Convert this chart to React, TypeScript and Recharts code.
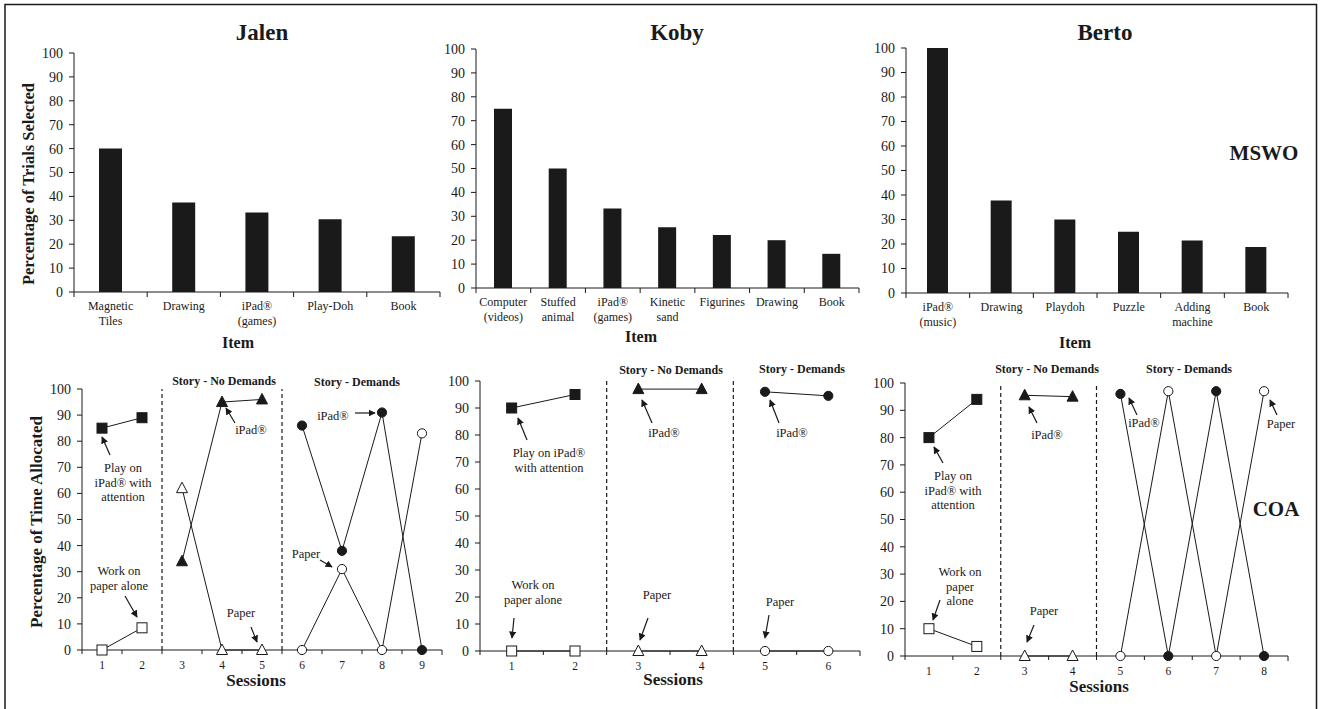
import React from 'react';
import { BarChart, Bar, LineChart, Line, XAxis, YAxis, ReferenceLine } from 'recharts';

const FONT = '"Liberation Serif", "Times New Roman", Times, serif';
const INK = '#1a1a1a';

// ---- MSWO (top row) ----
const jalenItems = ['Magnetic\nTiles', 'Drawing', 'iPad®\n(games)', 'Play-Doh', 'Book'];
const jalenMswo = [60, 37.5, 33.3, 30.4, 23.3];

const kobyItems = ['Computer\n(videos)', 'Stuffed\nanimal', 'iPad®\n(games)', 'Kinetic\nsand', 'Figurines', 'Drawing', 'Book'];
const kobyMswo = [75, 50, 33.3, 25.4, 22.2, 20, 14.3];

const bertoItems = ['iPad®\n(music)', 'Drawing', 'Playdoh', 'Puzzle', 'Adding\nmachine', 'Book'];
const bertoMswo = [100, 37.8, 30, 25, 21.4, 18.8];

const pctTicks = [0, 10, 20, 30, 40, 50, 60, 70, 80, 90, 100];

// ---- COA (bottom row) ----
const baselineSessions = [1, 2];

const jalenSessions = [1, 2, 3, 4, 5, 6, 7, 8, 9];
const jalenNoDemSessions = [3, 4, 5];
const jalenDemSessions = [6, 7, 8, 9];
const jalenAttention = [85, 89];
const jalenAlone = [0, 8.5];
const jalenNoDemIpad = [34, 95, 96];
const jalenNoDemPaper = [62, 0, 0];
const jalenDemIpad = [86, 38, 91, 0];
const jalenDemPaper = [0, 31, 0, 83];
const jalenBreaks = [2.5, 5.5];

const kobySessions = [1, 2, 3, 4, 5, 6];
const kobyNoDemSessions = [3, 4];
const kobyDemSessions = [5, 6];
const kobyAttention = [90, 95];
const kobyAlone = [0, 0];
const kobyNoDemIpad = [97, 97];
const kobyNoDemPaper = [0, 0];
const kobyDemIpad = [96, 94.5];
const kobyDemPaper = [0, 0];
const kobyBreaks = [2.5, 4.5];

const bertoSessions = [1, 2, 3, 4, 5, 6, 7, 8];
const bertoNoDemSessions = [3, 4];
const bertoDemSessions = [5, 6, 7, 8];
const bertoAttention = [80, 94];
const bertoAlone = [10, 3.5];
const bertoNoDemIpad = [95.5, 95];
const bertoNoDemPaper = [0, 0];
const bertoDemIpad = [96, 0, 97, 0];
const bertoDemPaper = [0, 97, 0, 97];
const bertoBreaks = [2.5, 4.5];

type Box = { x: number; y: number; w: number; h: number };
type Shape = 'square' | 'triangle' | 'circle';

const Y_W = 40;
const M_TOP = 12;
const M_RIGHT = 5;
const X_H = 45;

const toPoints = (sessions: number[], values: number[]) =>
  sessions.map((session, i) => ({ session, pct: values[i] }));

const yAxisProps = {
  width: Y_W,
  domain: [0, 100] as [number, number],
  ticks: pctTicks,
  interval: 0 as const,
  tickSize: 5,
  tickMargin: 6,
  stroke: INK,
  tick: { fill: INK, fontSize: 14, fontFamily: FONT },
};

const MswoPanel = ({ items, values, box, barSize }: { items: string[]; values: number[]; box: Box; barSize: number }) => {
  const data = items.map((item, i) => ({ item, pct: values[i] }));
  const band = box.w / items.length;

  const tick = (p: any) => {
    const lines = String(p.payload.value).split('\n');
    const last = p.index === items.length - 1;
    return (
      <g>
        <line x1={p.x - band / 2} x2={p.x - band / 2} y1={p.y} y2={p.y + 5} stroke={INK} />
        {last && <line x1={p.x + band / 2} x2={p.x + band / 2} y1={p.y} y2={p.y + 5} stroke={INK} />}
        <text x={p.x} y={p.y + 18} textAnchor="middle" fontSize={12} fontFamily={FONT} fill={INK}>
          {lines.map((l, i) => (
            <tspan key={i} x={p.x} dy={i === 0 ? 0 : 15}>{l}</tspan>
          ))}
        </text>
      </g>
    );
  };

  return (
    <div style={{ position: 'absolute', left: box.x - Y_W, top: box.y - M_TOP }}>
      <BarChart
        width={Y_W + box.w + M_RIGHT}
        height={M_TOP + box.h + X_H}
        data={data}
        margin={{ top: M_TOP, right: M_RIGHT, bottom: 0, left: 0 }}
      >
        <XAxis dataKey="item" interval={0} tickLine={false} tickSize={0} tickMargin={0} tick={tick} height={X_H} stroke={INK} />
        <YAxis {...yAxisProps} />
        <Bar dataKey="pct" fill={INK} barSize={barSize} isAnimationActive={false} />
      </BarChart>
    </div>
  );
};

const marker = (shape: Shape, filled: boolean) => (p: any) => {
  const { cx, cy, index } = p;
  if (cx == null || cy == null) return <g key={index} />;
  const fill = filled ? INK : '#fff';
  if (shape === 'square')
    return <rect key={index} x={cx - 5} y={cy - 5} width={10} height={10} fill={fill} stroke={INK} strokeWidth={1} />;
  if (shape === 'triangle')
    return (
      <polygon
        key={index}
        points={`${cx},${cy - 6} ${cx + 5.5},${cy + 4.5} ${cx - 5.5},${cy + 4.5}`}
        fill={fill}
        stroke={INK}
        strokeWidth={1}
      />
    );
  return <circle key={index} cx={cx} cy={cy} r={4.6} fill={fill} stroke={INK} strokeWidth={1} />;
};

type Series = { points: { session: number; pct: number }[]; shape: Shape; filled: boolean };

const CoaPanel = ({ sessions, breaks, series, box }: { sessions: number[]; breaks: number[]; series: Series[]; box: Box }) => {
  const n = sessions.length;
  const step = box.w / n;

  const tick = (p: any) => (
    <g>
      <line x1={p.x - step / 2} x2={p.x - step / 2} y1={p.y} y2={p.y + 4} stroke={INK} />
      {p.index === n - 1 && <line x1={p.x + step / 2} x2={p.x + step / 2} y1={p.y} y2={p.y + 5} stroke={INK} />}
      <text x={p.x} y={p.y + 19} textAnchor="middle" fontSize={11.5} fontFamily={FONT} fill={INK}>
        {p.payload.value}
      </text>
    </g>
  );

  return (
    <div style={{ position: 'absolute', left: box.x - Y_W, top: box.y - M_TOP }}>
      <LineChart
        width={Y_W + box.w + M_RIGHT}
        height={M_TOP + box.h + X_H}
        margin={{ top: M_TOP, right: M_RIGHT, bottom: 0, left: 0 }}
      >
        <XAxis
          type="number"
          dataKey="session"
          domain={[0.5, n + 0.5]}
          ticks={sessions}
          interval={0}
          tickLine={false}
          tickSize={0}
          tickMargin={0}
          tick={tick}
          height={X_H}
          stroke={INK}
          allowDataOverflow
        />
        <YAxis {...yAxisProps} />
        {breaks.map((b) => (
          <ReferenceLine key={b} x={b} stroke={INK} strokeWidth={1.2} strokeDasharray="4 3" />
        ))}
        {series.map((s, i) => (
          <Line
            key={i}
            data={s.points}
            dataKey="pct"
            stroke={INK}
            strokeWidth={1}
            dot={marker(s.shape, s.filled)}
            activeDot={false}
            isAnimationActive={false}
          />
        ))}
      </LineChart>
    </div>
  );
};

const buildSeries = (
  attention: number[], alone: number[],
  noDemSessions: number[], noDemIpad: number[], noDemPaper: number[],
  demSessions: number[], demIpad: number[], demPaper: number[],
): Series[] => [
  { points: toPoints(baselineSessions, alone), shape: 'square', filled: false },
  { points: toPoints(baselineSessions, attention), shape: 'square', filled: true },
  { points: toPoints(noDemSessions, noDemPaper), shape: 'triangle', filled: false },
  { points: toPoints(noDemSessions, noDemIpad), shape: 'triangle', filled: true },
  { points: toPoints(demSessions, demPaper), shape: 'circle', filled: false },
  { points: toPoints(demSessions, demIpad), shape: 'circle', filled: true },
];

// ---- annotation layout (figure pixels) ----
const titles = [
  { text: 'Jalen', x: 262, y: 40 },
  { text: 'Koby', x: 677, y: 40 },
  { text: 'Berto', x: 1105, y: 40 },
];
const itemLabels = [{ x: 238, y: 348 }, { x: 641, y: 342 }, { x: 1075, y: 348 }];
const sessionLabels = [{ x: 256, y: 686 }, { x: 673, y: 685 }, { x: 1099, y: 692 }];
const phaseLabels = [
  { text: 'Story - No Demands', x: 224, y: 385 },
  { text: 'Story - Demands', x: 357, y: 386 },
  { text: 'Story - No Demands', x: 671, y: 374 },
  { text: 'Story - Demands', x: 802, y: 373 },
  { text: 'Story - No Demands', x: 1047, y: 373 },
  { text: 'Story - Demands', x: 1189, y: 373 },
];
const notes = [
  { x: 123, y: 472, lines: ['Play on', 'iPad® with', 'attention'] },
  { x: 119, y: 575, lines: ['Work on', 'paper alone'] },
  { x: 251, y: 434, lines: ['iPad®'] },
  { x: 241, y: 617, lines: ['Paper'] },
  { x: 333, y: 420, lines: ['iPad®'] },
  { x: 306, y: 558, lines: ['Paper'] },
  { x: 549, y: 457, lines: ['Play on iPad®', 'with attention'] },
  { x: 533, y: 589, lines: ['Work on', 'paper alone'] },
  { x: 664, y: 437, lines: ['iPad®'] },
  { x: 657, y: 599, lines: ['Paper'] },
  { x: 792, y: 437, lines: ['iPad®'] },
  { x: 780, y: 606, lines: ['Paper'] },
  { x: 953, y: 480, lines: ['Play on', 'iPad® with', 'attention'] },
  { x: 960, y: 576, lines: ['Work on', 'paper', 'alone'] },
  { x: 1047, y: 439, lines: ['iPad®'] },
  { x: 1044, y: 615, lines: ['Paper'] },
  { x: 1144, y: 427, lines: ['iPad®'] },
  { x: 1281, y: 428, lines: ['Paper'] },
];
const arrows = [
  [110, 455, 102, 437], [125, 596, 137, 617], [235, 423, 226, 408],
  [251, 627, 257, 642], [355, 413, 375, 413], [320, 560, 332, 567],
  [527, 440, 518, 418], [514, 618, 512, 638], [652, 423, 642, 400],
  [648, 618, 640, 640], [779, 423, 770, 400], [769, 615, 765, 638],
  [943, 463, 934, 447], [940, 600, 933, 620], [1037, 423, 1029, 407],
  [1034, 625, 1027, 642], [1137, 415, 1129, 398], [1277, 415, 1270, 400],
];

const Overlay = () => (
  <svg width={1322} height={709} style={{ position: 'absolute', left: 0, top: 0, pointerEvents: 'none' }} fontFamily={FONT}>
    <defs>
      <marker id="ah" viewBox="0 0 10 10" refX="9" refY="5" markerWidth="6" markerHeight="6" orient="auto">
        <path d="M0,0 L10,5 L0,10 z" fill={INK} />
      </marker>
    </defs>
    <rect x={5} y={4.5} width={1311.5} height={720} fill="none" stroke={INK} strokeWidth={1.5} />
    {titles.map((t) => (
      <text key={t.text} x={t.x} y={t.y} textAnchor="middle" fontSize={23} fontWeight="bold" fill={INK}>{t.text}</text>
    ))}
    {itemLabels.map((p, i) => (
      <text key={i} x={p.x} y={p.y} textAnchor="middle" fontSize={16} fontWeight="bold" fill={INK}>Item</text>
    ))}
    {sessionLabels.map((p, i) => (
      <text key={i} x={p.x} y={p.y} textAnchor="middle" fontSize={17} fontWeight="bold" fill={INK}>Sessions</text>
    ))}
    <text transform="translate(34,184) rotate(-90)" textAnchor="middle" fontSize={16.5} fontWeight="bold" fill={INK}>
      Percentage of Trials Selected
    </text>
    <text transform="translate(42,522) rotate(-90)" textAnchor="middle" fontSize={17} fontWeight="bold" fill={INK}>
      Percentage of Time Allocated
    </text>
    <text x={1264} y={160} textAnchor="middle" fontSize={21} fontWeight="bold" fill={INK}>MSWO</text>
    <text x={1276} y={516} textAnchor="middle" fontSize={21} fontWeight="bold" fill={INK}>COA</text>
    {phaseLabels.map((p, i) => (
      <text key={i} x={p.x} y={p.y} textAnchor="middle" fontSize={12} fontWeight="bold" fill={INK}>{p.text}</text>
    ))}
    {notes.map((n, i) => (
      <text key={i} x={n.x} y={n.y} textAnchor="middle" fontSize={12.5} fill={INK}>
        {n.lines.map((l, j) => (
          <tspan key={j} x={n.x} dy={j === 0 ? 0 : 14.5}>{l}</tspan>
        ))}
      </text>
    ))}
    {arrows.map(([x1, y1, x2, y2], i) => (
      <line key={i} x1={x1} y1={y1} x2={x2} y2={y2} stroke={INK} strokeWidth={1.2} markerEnd="url(#ah)" />
    ))}
  </svg>
);

export default function App() {
  return (
    <div style={{ position: 'absolute', left: 0, top: 0, width: 1322, height: 709, background: '#fff', overflow: 'hidden' }}>
      <MswoPanel items={jalenItems} values={jalenMswo} box={{ x: 74, y: 53, w: 366, h: 239 }} barSize={23} />
      <MswoPanel items={kobyItems} values={kobyMswo} box={{ x: 476, y: 49, w: 383, h: 239 }} barSize={18} />
      <MswoPanel items={bertoItems} values={bertoMswo} box={{ x: 906, y: 48, w: 382, h: 245 }} barSize={21} />

      <CoaPanel
        sessions={jalenSessions}
        breaks={jalenBreaks}
        box={{ x: 82, y: 389, w: 360, h: 261 }}
        series={buildSeries(jalenAttention, jalenAlone, jalenNoDemSessions, jalenNoDemIpad, jalenNoDemPaper, jalenDemSessions, jalenDemIpad, jalenDemPaper)}
      />
      <CoaPanel
        sessions={kobySessions}
        breaks={kobyBreaks}
        box={{ x: 480, y: 381, w: 380, h: 270 }}
        series={buildSeries(kobyAttention, kobyAlone, kobyNoDemSessions, kobyNoDemIpad, kobyNoDemPaper, kobyDemSessions, kobyDemIpad, kobyDemPaper)}
      />
      <CoaPanel
        sessions={bertoSessions}
        breaks={bertoBreaks}
        box={{ x: 905, y: 383, w: 383, h: 273 }}
        series={buildSeries(bertoAttention, bertoAlone, bertoNoDemSessions, bertoNoDemIpad, bertoNoDemPaper, bertoDemSessions, bertoDemIpad, bertoDemPaper)}
      />

      <Overlay />
    </div>
  );
}
